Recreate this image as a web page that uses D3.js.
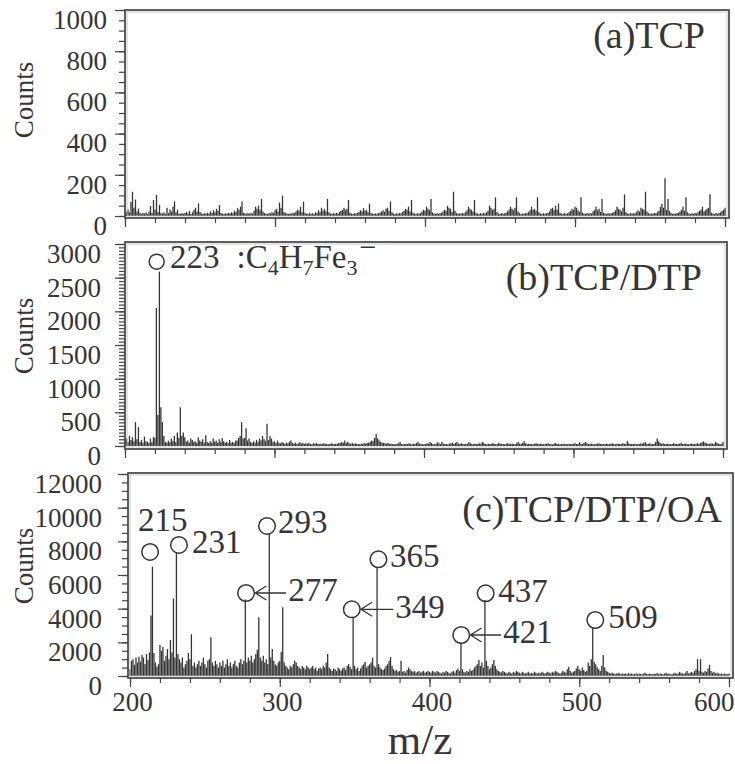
<!DOCTYPE html>
<html lang="en">

<head>
    <meta charset="utf-8">
    <script src="https://d3js.org/d3.v7.min.js"></script>
    <title>Mass spectra TCP / DTP / OA</title>
    <style>
        body {
            margin: 0;
            padding: 0;
            background: #fff;
        }
    </style>
</head>

<body>
    <svg id="chart" width="735" height="764"></svg>
    <script>

        // ---- data (counts per integer m/z, starting at m/z 200) ----
        var mzStart = 200;

        var tcpCounts = [
            12, 20, 32, 18, 68, 118, 40, 80, 22, 36, 14, 10, 15, 12, 18, 10, 22, 49, 15, 78,
            30, 102, 20, 53, 14, 12, 18, 10, 40, 15, 32, 22, 45, 70, 18, 30, 12, 10, 15, 11,
            14, 20, 12, 25, 10, 18, 30, 40, 22, 61, 20, 12, 10, 14, 11, 16, 12, 22, 15, 28,
            18, 35, 25, 53, 15, 12, 10, 13, 11, 15, 12, 18, 14, 26, 20, 38, 30, 45, 70, 16,
            12, 10, 14, 11, 16, 12, 25, 45, 35, 50, 30, 83, 22, 15, 11, 10, 14, 12, 18, 15,
            28, 35, 22, 65, 40, 97, 20, 14, 12, 10, 13, 11, 16, 14, 22, 30, 25, 45, 18, 70,
            16, 12, 10, 14, 11, 13, 10, 18, 15, 28, 20, 40, 26, 35, 22, 83, 18, 12, 10, 14,
            11, 15, 12, 20, 25, 30, 40, 28, 35, 78, 16, 12, 10, 14, 12, 16, 20, 28, 22, 38,
            25, 30, 18, 60, 15, 12, 10, 13, 11, 14, 16, 22, 28, 20, 35, 40, 25, 70, 18, 12,
            10, 13, 11, 15, 12, 20, 26, 35, 30, 45, 22, 78, 16, 12, 10, 14, 11, 15, 22, 30,
            25, 45, 35, 28, 83, 18, 12, 10, 14, 11, 13, 16, 22, 30, 26, 50, 40, 35, 20, 118,
            25, 14, 10, 13, 11, 15, 12, 20, 28, 45, 35, 30, 22, 78, 16, 12, 10, 14, 11, 15,
            12, 18, 25, 50, 40, 30, 35, 91, 20, 12, 10, 14, 11, 13, 16, 22, 30, 45, 35, 28,
            40, 91, 22, 14, 10, 12, 11, 15, 13, 20, 28, 45, 30, 35, 26, 91, 18, 12, 10, 14,
            11, 13, 15, 22, 35, 40, 28, 50, 30, 61, 16, 12, 10, 14, 11, 13, 18, 25, 35, 30,
            45, 40, 28, 20, 91, 16, 12, 10, 14, 11, 15, 12, 22, 30, 45, 28, 35, 20, 83, 16,
            12, 10, 14, 11, 13, 16, 20, 28, 45, 35, 30, 22, 40, 105, 18, 12, 10, 14, 11, 15,
            12, 20, 28, 22, 40, 35, 30, 118, 22, 14, 10, 12, 11, 15, 13, 18, 25, 45, 60, 40,
            183, 30, 83, 25, 14, 10, 12, 11, 14, 16, 22, 30, 45, 26, 91, 18, 12, 10, 13, 11,
            15, 12, 18, 25, 30, 45, 22, 28, 35, 40, 105, 16, 12, 10, 14, 11, 15, 18, 25, 30,
            40
        ];

        var tcpDtpCounts = [
            80, 110, 60, 150, 90, 130, 70, 355, 100, 280, 60, 90, 50, 140, 70, 60, 45, 110, 55, 130,
            120, 2050, 460, 2590, 575, 355, 150, 60, 45, 80, 55, 110, 70, 150, 60, 200, 120, 575, 150, 200,
            130, 60, 80, 50, 110, 90, 60, 70, 45, 130, 80, 60, 100, 50, 160, 60, 45, 70, 50, 110,
            60, 80, 45, 100, 55, 120, 70, 50, 60, 40, 90, 50, 60, 45, 80, 80, 120, 150, 355, 110,
            120, 265, 80, 110, 60, 45, 70, 50, 90, 60, 110, 80, 150, 100, 70, 330, 90, 150, 110, 60,
            70, 45, 80, 50, 40, 60, 45, 35, 50, 40, 60, 80, 45, 35, 50, 30, 40, 55, 35, 45,
            30, 40, 35, 50, 30, 25, 40, 35, 45, 30, 25, 35, 30, 40, 28, 35, 25, 30, 40, 32,
            28, 35, 30, 45, 40, 60, 50, 80, 45, 60, 40, 35, 50, 30, 40, 35, 30, 25, 35, 30,
            40, 35, 45, 50, 60, 80, 70, 120, 180, 110, 80, 60, 50, 45, 40, 35, 45, 30, 35, 28,
            30, 25, 35, 40, 60, 30, 25, 30, 35, 28, 40, 30, 25, 35, 30, 45, 55, 35, 30, 28,
            25, 30, 40, 35, 60, 45, 30, 25, 35, 55, 40, 30, 60, 35, 28, 30, 25, 35, 40, 50,
            30, 45, 60, 35, 28, 40, 30, 25, 35, 30, 55, 40, 30, 25, 35, 28, 30, 40, 35, 60,
            45, 30, 25, 35, 28, 30, 40, 35, 25, 30, 50, 35, 28, 30, 25, 35, 40, 30, 28, 35,
            30, 25, 40, 60, 35, 30, 45, 70, 40, 30, 35, 28, 30, 25, 35, 40, 30, 28, 35, 30,
            25, 30, 35, 40, 28, 30, 25, 35, 45, 30, 28, 25, 30, 35, 28, 30, 25, 35, 30, 28,
            35, 40, 30, 28, 55, 35, 30, 45, 60, 40, 30, 28, 35, 30, 25, 30, 35, 40, 30, 28,
            30, 25, 35, 30, 28, 35, 40, 30, 25, 30, 35, 28, 30, 40, 35, 30, 75, 40, 30, 28,
            30, 35, 25, 30, 28, 40, 30, 45, 55, 35, 30, 40, 28, 30, 35, 60, 110, 70, 45, 35,
            40, 30, 28, 35, 30, 25, 30, 40, 35, 28, 30, 35, 45, 30, 28, 35, 30, 25, 30, 35,
            28, 30, 35, 40, 30, 45, 55, 70, 50, 40, 35, 30, 40, 35, 30, 60, 45, 35, 30, 28,
            60
        ];

        var tcpDtpOaCounts = [
            400, 900, 1000, 650, 1100, 800, 1150, 850, 1250, 1100, 700, 1300, 950, 1400, 3600, 6500, 1370, 800, 550, 700,
            1840, 1500, 1720, 900, 1200, 1600, 1000, 2140, 1400, 4600, 1100, 7330, 1300, 1000, 800, 1100, 500, 700, 900, 1370,
            1000, 2480, 600, 800, 500, 700, 900, 600, 800, 1100, 700, 500, 900, 1000, 2300, 800, 600, 900, 700, 500,
            800, 600, 900, 500, 700, 1000, 600, 800, 500, 700, 900, 600, 500, 800, 1000, 700, 900, 4550, 800, 1100,
            900, 1200, 800, 1000, 1300, 1560, 3490, 1100, 900, 1200, 800, 1000, 700, 8500, 1100, 1600, 900, 700, 600, 800,
            900, 1440, 4080, 800, 600, 500, 400, 600, 500, 700, 900, 800, 600, 500, 400, 600, 500, 400, 600, 500,
            400, 500, 600, 400, 500, 300, 450, 500, 400, 600, 500, 800, 1300, 500, 400, 300, 450, 400, 300, 500,
            400, 300, 450, 500, 350, 600, 700, 530, 400, 3500, 600, 400, 500, 300, 450, 600, 700, 830, 500, 600,
            700, 800, 1070, 600, 500, 6480, 700, 500, 400, 350, 450, 600, 700, 900, 1130, 600, 400, 300, 350, 250,
            300, 900, 250, 300, 200, 350, 500, 400, 300, 250, 300, 200, 250, 300, 200, 250, 300, 200, 250, 300,
            250, 200, 300, 250, 200, 300, 250, 200, 150, 250, 200, 300, 250, 200, 150, 250, 300, 200, 350, 450,
            300, 1960, 400, 250, 200, 300, 250, 400, 300, 350, 500, 600, 700, 950, 600, 800, 500, 4520, 900, 600,
            400, 500, 700, 950, 600, 400, 300, 250, 200, 300, 250, 200, 150, 250, 200, 150, 250, 200, 300, 250,
            200, 150, 250, 200, 150, 200, 250, 150, 200, 150, 250, 200, 150, 200, 150, 250, 200, 150, 200, 250,
            200, 150, 250, 200, 300, 250, 200, 150, 200, 300, 250, 200, 400, 550, 300, 200, 250, 300, 450, 600,
            400, 300, 500, 350, 250, 300, 800, 600, 1000, 2850, 830, 700, 500, 400, 300, 600, 1250, 500, 300, 250,
            200, 150, 200, 150, 100, 150, 200, 150, 100, 150, 120, 150, 100, 180, 120, 150, 100, 120, 150, 100,
            150, 120, 100, 150, 200, 120, 100, 150, 120, 100, 150, 120, 180, 100, 150, 120, 100, 150, 200, 120,
            150, 100, 120, 150, 200, 120, 150, 250, 180, 150, 120, 200, 300, 150, 200, 250, 180, 300, 400, 1000,
            300, 1000, 250, 200, 300, 250, 450, 650, 300, 200, 250, 150, 200, 150, 120, 150, 100, 150, 120, 100,
            150
        ];

        // x ticks (m/z) and labels
        var xMajorTicks = [200, 300, 400, 500, 600];
        var xMinorStep = 20;

        // annotations of panel (c): label, circle (m/z, counts), label anchor (m/z, counts), arrow?
        var oaLabels = ["215", "231", "277", "293", "349", "365", "421", "437", "509"];
        var oaCircleMz = [213.4, 232.7, 277.5, 291.5, 348.1, 365.9, 421.2, 437.5, 510.7];
        var oaCircleCounts = [7368, 7784, 4932, 8913, 3963, 6934, 2436, 4914, 3327];
        var oaLabelMz = [205.3, 241.4, 305.6, 298.9, 377.1, 373.7, 449.2, 445.9, 519.4];
        var oaLabelCounts = [8616, 7308, 4456, 8497, 3446, 6477, 1961, 4397, 2852];
        var oaArrow = [false, false, true, false, true, false, true, false, false];

        // annotation of panel (b)
        var dtpCircle = [221.2, 2738];
        var dtpLabel = [230.1, 2645];

        // ---- layout ----
        var panels = [
            {
                title: "(a)TCP", counts: tcpCounts, yMax: 1000, yMajor: 200, yMinor: 50,
                x200: 125, x600: 725, left: 125, right: 729, zeroY: 216, maxY: 10, top: 10, bottom: 218,
                labelGap: 8, countsY: 100, titleX: 705, titleY: 48, xLabels: false
            },
            {
                title: "(b)TCP/DTP", counts: tcpDtpCounts, yMax: 3000, yMajor: 500, yMinor: 50,
                x200: 125, x600: 723, left: 125, right: 727, zeroY: 446, maxY: 244, top: 242, bottom: 449,
                labelGap: 14, countsY: 336, titleX: 702, titleY: 290, xLabels: false
            },
            {
                title: "(c)TCP/DTP/OA", counts: tcpDtpOaCounts, yMax: 12000, yMajor: 2000, yMinor: 500,
                x200: 130, x600: 729, left: 128, right: 733, zeroY: 676, maxY: 474, top: 473, bottom: 678,
                labelGap: 16, countsY: 566, titleX: 722, titleY: 522, xLabels: true
            }
        ];

        var svg = d3.select("#chart");
        var ink = "#353535";
        var serif = "'Liberation Serif', 'Times New Roman', serif";

        // every text gets the serif face as an inline style
        function txt(sel, size) {
            return sel.style("font-family", serif).style("font-size", size + "px").style("fill", ink);
        }

        // d3 axes set their own font attrs, so restyle after the call
        function styleAxis(sel) {
            sel.select(".domain").remove();
            sel.selectAll("line").attr("stroke", "#444").attr("stroke-width", 1.2);
            txt(sel.selectAll("text"), 27);
        }

        panels.forEach(function (p, pi) {
            var x = d3.scaleLinear().domain([200, 600]).range([p.x200, p.x600]);
            var y = d3.scaleLinear().domain([0, p.yMax]).range([p.zeroY, p.maxY]);
            p.x = x;
            p.y = y;

            var g = svg.append("g");

            // clip for the spectrum
            var clipId = "clip" + pi;
            svg.append("clipPath").attr("id", clipId)
                .append("rect")
                .attr("x", p.left).attr("y", p.top)
                .attr("width", p.right - p.left).attr("height", p.bottom - p.top);

            // spectrum sticks
            g.append("g")
                .attr("clip-path", "url(#" + clipId + ")")
                .selectAll("line")
                .data(p.counts)
                .enter()
                .append("line")
                .attr("x1", function (d, i) { return x(mzStart + i); })
                .attr("x2", function (d, i) { return x(mzStart + i); })
                .attr("y1", y(0))
                .attr("y2", function (d) { return y(d); })
                .attr("stroke", ink)
                .attr("stroke-width", 1.3);

            // frame (double line look)
            g.append("rect")
                .attr("x", p.left).attr("y", p.top)
                .attr("width", p.right - p.left).attr("height", p.bottom - p.top)
                .attr("fill", "none").attr("stroke", "#444").attr("stroke-width", 1.7);
            g.append("rect")
                .attr("x", p.left + 2).attr("y", p.top + 2)
                .attr("width", p.right - p.left - 4).attr("height", p.bottom - p.top - 4)
                .attr("fill", "none").attr("stroke", "#bbb").attr("stroke-width", 0.8);

            // y axis: minor then major ticks
            g.append("g").attr("transform", "translate(" + p.left + ",0)")
                .call(d3.axisLeft(y)
                    .tickValues(d3.range(0, p.yMax + 1, p.yMinor))
                    .tickSize(6).tickFormat(""))
                .call(styleAxis);

            var ya = g.append("g").attr("transform", "translate(" + p.left + ",0)")
                .call(d3.axisLeft(y)
                    .tickValues(d3.range(0, p.yMax + 1, p.yMajor))
                    .tickSize(10).tickPadding(p.labelGap)
                    .tickFormat(d3.format("d")))
                .call(styleAxis);
            ya.selectAll("text").attr("dy", "0.68em");

            // x axis: minor then major ticks
            g.append("g").attr("transform", "translate(0," + p.bottom + ")")
                .call(d3.axisBottom(x)
                    .tickValues(d3.range(200, 601, xMinorStep))
                    .tickSize(5).tickFormat(""))
                .call(styleAxis);

            var xa = g.append("g").attr("transform", "translate(0," + p.bottom + ")")
                .call(d3.axisBottom(x)
                    .tickValues(xMajorTicks)
                    .tickSize(9).tickPadding(5)
                    .tickFormat(p.xLabels ? d3.format("d") : ""))
                .call(styleAxis);
            xa.selectAll("text")
                .attr("x", function (d) { return d === 600 ? (p.right - x(600) + 1) : 2; })
                .attr("text-anchor", function (d) { return d === 600 ? "end" : "middle"; });

            // y label
            txt(svg.append("text"), 27)
                .attr("transform", "translate(33," + p.countsY + ") rotate(-90)")
                .attr("text-anchor", "middle")
                .text("Counts");

            // panel title
            txt(svg.append("text"), 38)
                .attr("x", p.titleX).attr("y", p.titleY)
                .attr("text-anchor", "end")
                .text(p.title);
        });

        // ---- annotations, panel (b) ----
        var pb = panels[1];
        svg.append("circle")
            .attr("cx", pb.x(dtpCircle[0])).attr("cy", pb.y(dtpCircle[1])).attr("r", 7.5)
            .attr("fill", "none").attr("stroke", ink).attr("stroke-width", 1.5);

        var formula = txt(svg.append("text"), 33)
            .attr("x", pb.x(dtpLabel[0])).attr("y", pb.y(dtpLabel[1]));
        formula.append("tspan").text("223");
        formula.append("tspan").attr("dx", 17).text(":C");
        formula.append("tspan").style("font-size", "22px").attr("dy", 7).text("4");
        formula.append("tspan").attr("dy", -7).text("H");
        formula.append("tspan").style("font-size", "22px").attr("dy", 7).text("7");
        formula.append("tspan").attr("dy", -7).text("Fe");
        formula.append("tspan").style("font-size", "22px").attr("dy", 7).text("3");
        formula.append("tspan").style("font-size", "30px").attr("dx", 2).attr("dy", -18).text("\u2212");

        // ---- annotations, panel (c) ----
        var pc = panels[2];
        var r = 8.3;
        oaLabels.forEach(function (lab, i) {
            var cx = pc.x(oaCircleMz[i]), cy = pc.y(oaCircleCounts[i]);
            var tx = pc.x(oaLabelMz[i]), ty = pc.y(oaLabelCounts[i]);
            svg.append("circle")
                .attr("cx", cx).attr("cy", cy).attr("r", r)
                .attr("fill", "none").attr("stroke", ink).attr("stroke-width", 1.5);
            if (oaArrow[i]) {
                var tip = cx + r + 1;
                svg.append("path")
                    .attr("d", "M" + (tx - 2) + "," + cy + "H" + tip +
                        "M" + (tip + 11) + "," + (cy - 7) + "L" + tip + "," + cy + "L" + (tip + 11) + "," + (cy + 7))
                    .attr("fill", "none").attr("stroke", ink).attr("stroke-width", 1.3);
            }
            txt(svg.append("text"), 33)
                .attr("x", tx).attr("y", ty)
                .text(lab);
        });

        // x label
        txt(svg.append("text"), 43)
            .attr("x", 420).attr("y", 754)
            .attr("text-anchor", "middle")
            .text("m/z");

    </script>
</body>

</html>
